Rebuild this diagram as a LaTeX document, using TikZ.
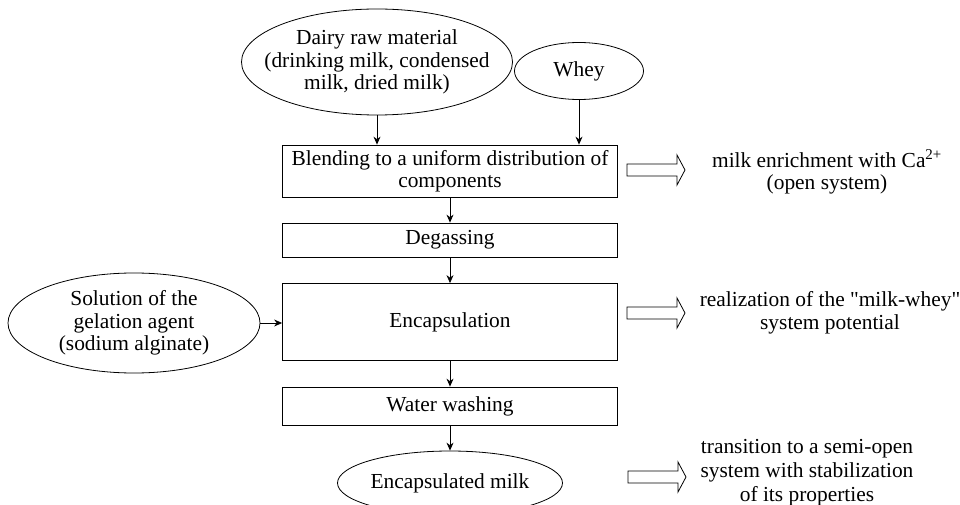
\documentclass[tikz,border=0pt]{standalone}
\usepackage{fontspec}
\setmainfont{Liberation Serif}[Ligatures=TeXOff]
\usetikzlibrary{shapes.geometric,arrows.meta}

\tikzset{
  stage/.style={draw, minimum width=335pt, inner sep=0pt, align=center},
  source/.style={draw, ellipse, inner sep=0pt},
  note/.style={align=center},
  flow/.style={-{Stealth[length=8pt,width=7pt]}},
}
\newcommand{\fatarrow}[1]{\draw (#1) ++(0,-6) -- ++(50,0) -- ++(0,-9) -- ++(8,15) -- ++(-8,15) -- ++(0,-9) -- ++(-50,0) -- cycle;}

\begin{document}
\begin{tikzpicture}[x=1pt,y=-1pt,line width=0.8pt,font=\fontsize{21.4}{22.5}\selectfont]
\path[use as bounding box,clip] (0,0) rectangle (960,505);
% inputs
\node[source, minimum width=271pt, minimum height=106pt, label={[align=center]center:Dairy raw material\\(drinking milk, condensed\\milk, dried milk)}] (dairy) at (377,62) {};
\node[source, minimum width=129pt, minimum height=57pt, label=center:Whey] (whey) at (579,71) {};
\node[source, minimum width=252pt, minimum height=100pt, label={[align=center]center:Solution of the\\gelation agent\\(sodium alginate)}] (gel) at (134,323) {};
% stages
\node[stage, minimum height=52pt] (blend) at (450,171) {Blending to a uniform distribution of\\components};
\node[stage, minimum height=34pt] (degas) at (450,240) {Degassing};
\node[stage, minimum height=77pt] (encap) at (450,322) {Encapsulation};
\node[stage, minimum height=38pt] (wash) at (450,406) {Water washing};
\node[source, minimum width=225pt, minimum height=64pt, label=center:Encapsulated milk] (milk) at (450,483) {};
% flow
\draw[flow] (dairy) -- (dairy |- blend.north);
\draw[flow] (whey) -- (whey |- blend.north);
\draw[flow] (blend) -- (degas);
\draw[flow] (degas) -- (encap);
\draw[flow] (encap) -- (wash);
\draw[flow] (wash) -- (milk);
\draw[flow] (gel) -- (gel -| encap.west);
% results
\fatarrow{627,170}
\fatarrow{627,313}
\fatarrow{628,477}
\node[note] (enrich) at (827,172) {milk enrichment with Ca\textsuperscript{2+}\\(open system)};
\node[note] (potential) at (830,313) {realization of the "milk-whey"\\system potential};
\node[note, font=\fontsize{21.4}{24}\selectfont] (stable) at (807,473) {transition to a semi-open\\system with stabilization\\of its properties};
\end{tikzpicture}
\end{document}
